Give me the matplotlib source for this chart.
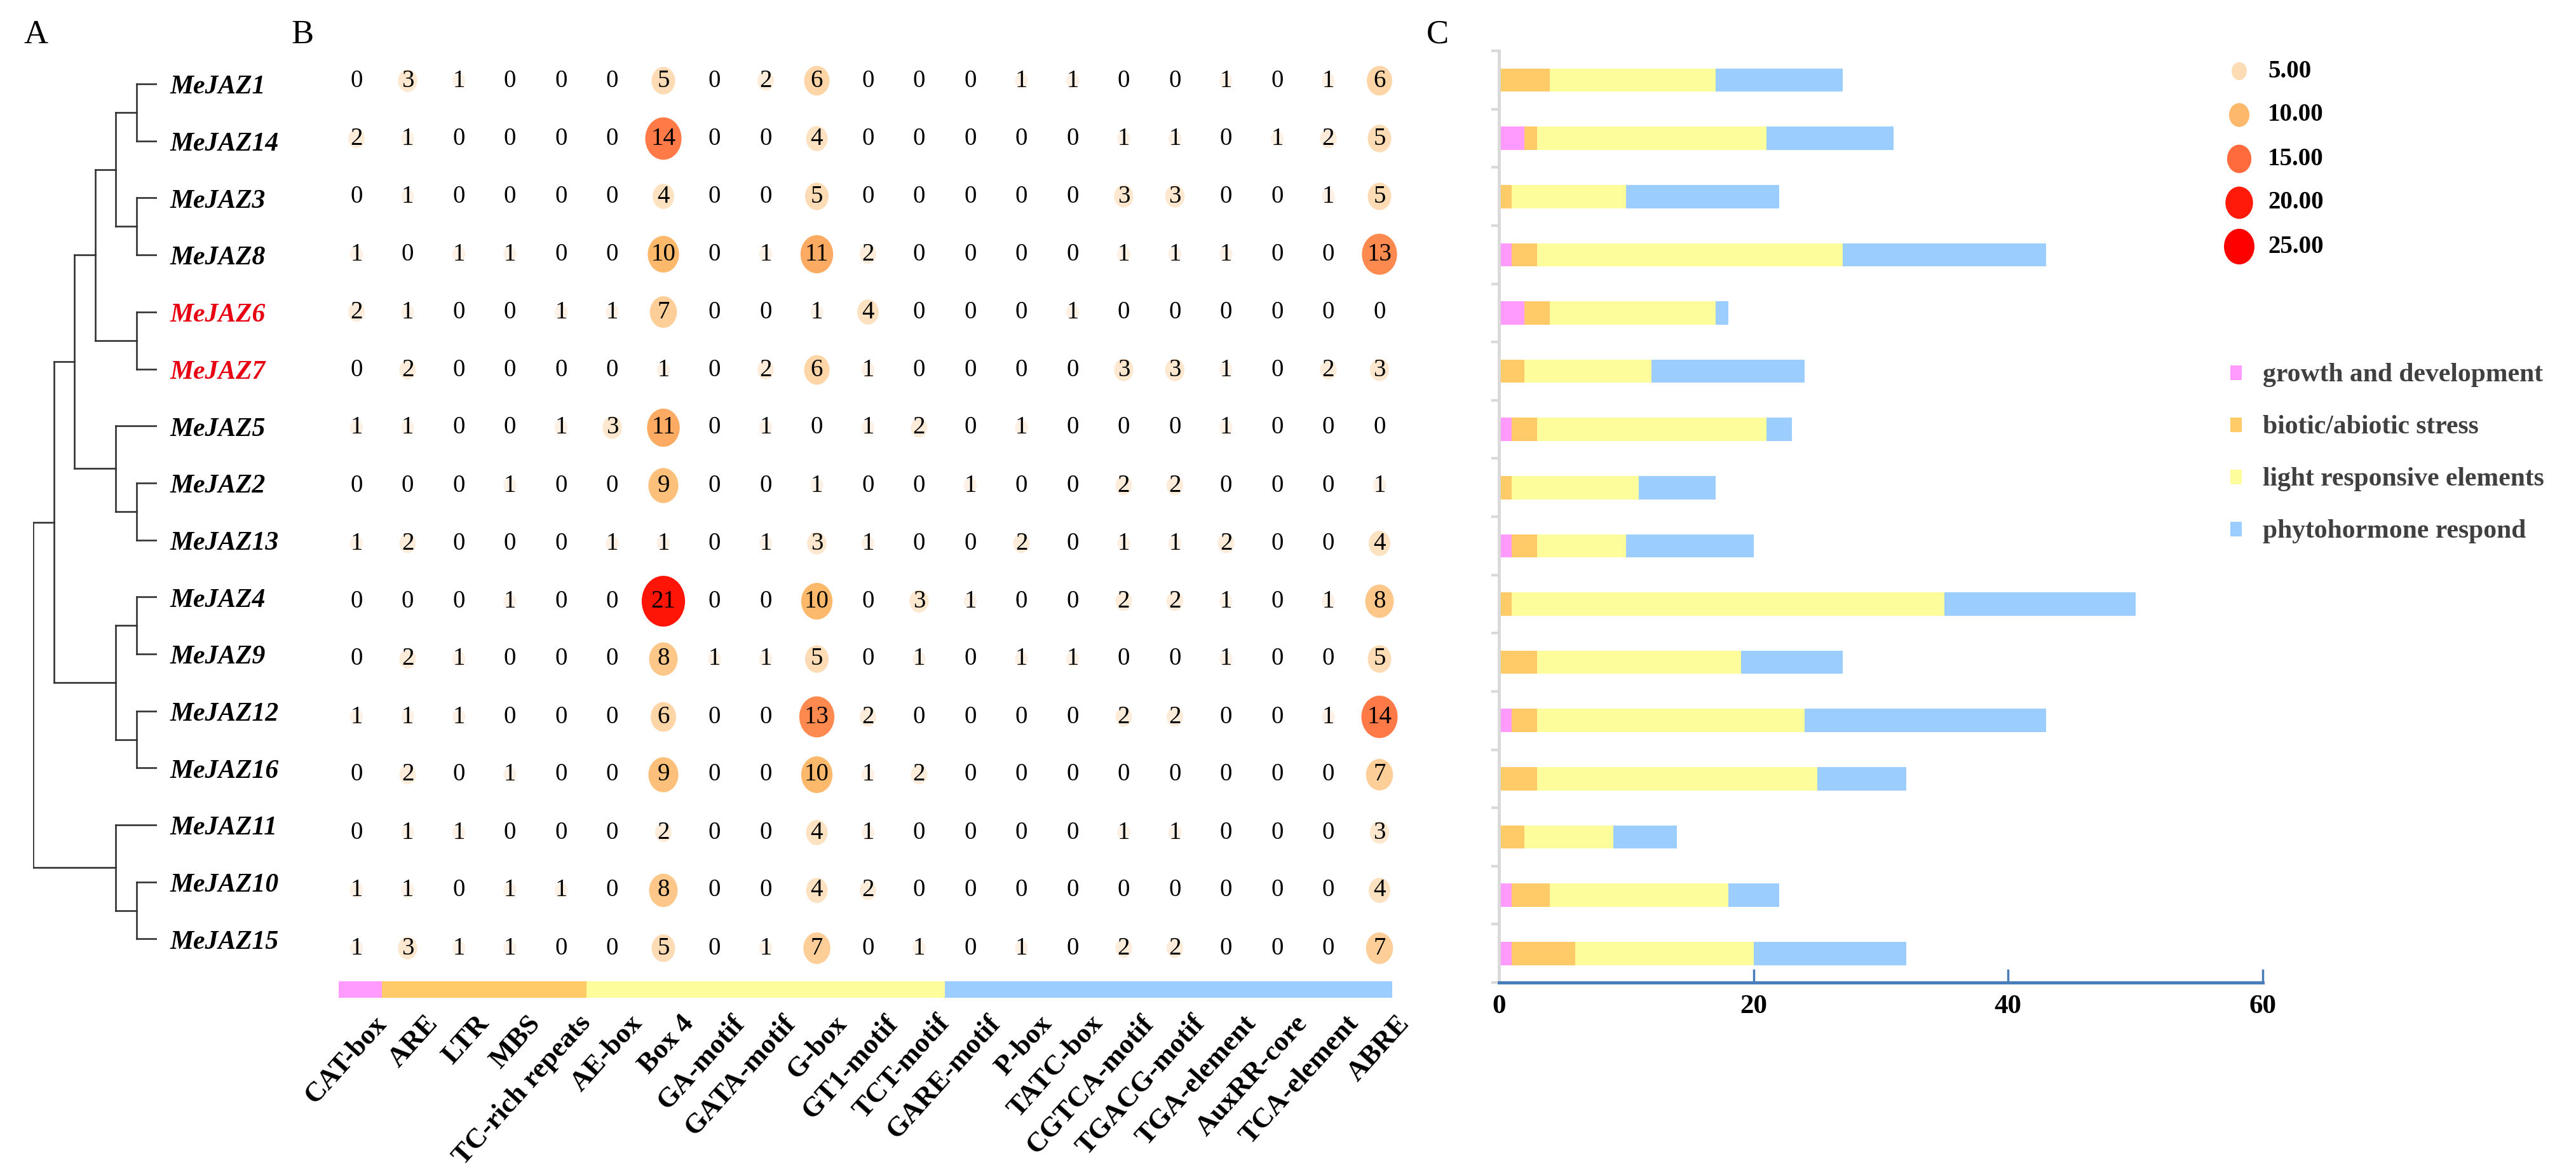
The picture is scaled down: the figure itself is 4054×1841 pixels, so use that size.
import numpy as np
import matplotlib
matplotlib.use("Agg")
import matplotlib.pyplot as plt
from matplotlib.path import Path
from matplotlib.transforms import Affine2D
from matplotlib.colors import LinearSegmentedColormap

plt.rcParams['font.family'] = ['Liberation Serif', 'DejaVu Serif']

# ---------------- data ----------------
genes = ['MeJAZ1', 'MeJAZ14', 'MeJAZ3', 'MeJAZ8', 'MeJAZ6', 'MeJAZ7', 'MeJAZ5', 'MeJAZ2',
         'MeJAZ13', 'MeJAZ4', 'MeJAZ9', 'MeJAZ12', 'MeJAZ16', 'MeJAZ11', 'MeJAZ10', 'MeJAZ15']
red_genes = ['MeJAZ6', 'MeJAZ7']

# phylogeny (cladogram, leaves in plotting order)
tree = ((((((('MeJAZ1', 'MeJAZ14'), ('MeJAZ3', 'MeJAZ8')), ('MeJAZ6', 'MeJAZ7')),
           ('MeJAZ5', ('MeJAZ2', 'MeJAZ13'))),
          (('MeJAZ4', 'MeJAZ9'), ('MeJAZ12', 'MeJAZ16')))),
        ('MeJAZ11', ('MeJAZ10', 'MeJAZ15')))

elements = ['CAT-box', 'ARE', 'LTR', 'MBS', 'TC-rich repeats', 'AE-box', 'Box 4', 'GA-motif',
            'GATA-motif', 'G-box', 'GT1-motif', 'TCT-motif', 'GARE-motif', 'P-box', 'TATC-box',
            'CGTCA-motif', 'TGACG-motif', 'TGA-element', 'AuxRR-core', 'TCA-element', 'ABRE']

counts = np.array([
    [0, 3, 1, 0, 0, 0, 5, 0, 2, 6, 0, 0, 0, 1, 1, 0, 0, 1, 0, 1, 6],
    [2, 1, 0, 0, 0, 0, 14, 0, 0, 4, 0, 0, 0, 0, 0, 1, 1, 0, 1, 2, 5],
    [0, 1, 0, 0, 0, 0, 4, 0, 0, 5, 0, 0, 0, 0, 0, 3, 3, 0, 0, 1, 5],
    [1, 0, 1, 1, 0, 0, 10, 0, 1, 11, 2, 0, 0, 0, 0, 1, 1, 1, 0, 0, 13],
    [2, 1, 0, 0, 1, 1, 7, 0, 0, 1, 4, 0, 0, 0, 1, 0, 0, 0, 0, 0, 0],
    [0, 2, 0, 0, 0, 0, 1, 0, 2, 6, 1, 0, 0, 0, 0, 3, 3, 1, 0, 2, 3],
    [1, 1, 0, 0, 1, 3, 11, 0, 1, 0, 1, 2, 0, 1, 0, 0, 0, 1, 0, 0, 0],
    [0, 0, 0, 1, 0, 0, 9, 0, 0, 1, 0, 0, 1, 0, 0, 2, 2, 0, 0, 0, 1],
    [1, 2, 0, 0, 0, 1, 1, 0, 1, 3, 1, 0, 0, 2, 0, 1, 1, 2, 0, 0, 4],
    [0, 0, 0, 1, 0, 0, 21, 0, 0, 10, 0, 3, 1, 0, 0, 2, 2, 1, 0, 1, 8],
    [0, 2, 1, 0, 0, 0, 8, 1, 1, 5, 0, 1, 0, 1, 1, 0, 0, 1, 0, 0, 5],
    [1, 1, 1, 0, 0, 0, 6, 0, 0, 13, 2, 0, 0, 0, 0, 2, 2, 0, 0, 1, 14],
    [0, 2, 0, 1, 0, 0, 9, 0, 0, 10, 1, 2, 0, 0, 0, 0, 0, 0, 0, 0, 7],
    [0, 1, 1, 0, 0, 0, 2, 0, 0, 4, 1, 0, 0, 0, 0, 1, 1, 0, 0, 0, 3],
    [1, 1, 0, 1, 1, 0, 8, 0, 0, 4, 2, 0, 0, 0, 0, 0, 0, 0, 0, 0, 4],
    [1, 3, 1, 1, 0, 0, 5, 0, 1, 7, 0, 1, 0, 1, 0, 2, 2, 0, 0, 0, 7],
])

group_names = ['growth and development', 'biotic/abiotic stress',
               'light responsive elements', 'phytohormone respond']
group_sizes = [1, 4, 7, 9]   # element columns per group
group_colors = ['#FF9BFF', '#FFCB69', '#FDFD9B', '#9BCDFF']

# panel C, stacked bar segments per gene
growth = [0, 2, 0, 1, 2, 0, 1, 0, 1, 0, 0, 1, 0, 0, 1, 1]
stress = [4, 1, 1, 2, 2, 2, 2, 1, 2, 1, 3, 2, 3, 2, 3, 5]
light = [13, 18, 9, 24, 13, 10, 18, 10, 7, 34, 16, 21, 22, 7, 14, 14]
hormone = [10, 10, 12, 16, 1, 12, 2, 6, 10, 15, 8, 19, 7, 5, 4, 12]

legend_sizes = [5, 10, 15, 20, 25]

# colour scale for bubbles
cvals = [0, 1, 5, 10, 15, 20, 25]
ccols = ['#FFFFFF', '#FDF1E6', '#FDDCB5', '#FDB96B', '#FF6B3D', '#FF1A0A', '#FF0000']
cmap = LinearSegmentedColormap.from_list('bub', list(zip(np.array(cvals) / 25, ccols)))

# ---------------- figure ----------------
W, H = 4054, 1841
DPI = 100
fig = plt.figure(figsize=(W / DPI, H / DPI), dpi=DPI)


def px_axes(left, top, right, bottom):
    return fig.add_axes([left / W, 1 - bottom / H, (right - left) / W, (bottom - top) / H])


pt = 72 / DPI  # px -> points
oval = Affine2D().scale(1, 1.17).transform_path(Path.unit_circle())


def bubble_s(v, k=1.0):
    h_px = 1.17 * k * (7.3 + 13.3 * np.sqrt(v))
    return (h_px * pt) ** 2


# ---- A: tree ----
axt = px_axes(52, 87.15, 247, 1522.35)
axt.set_xlim(6, 0)
axt.set_ylim(15.5, -0.5)
axt.axis('off')


def draw_clade(ax, node):
    if isinstance(node, str):
        return 0, genes.index(node)
    kids = [draw_clade(ax, c) for c in node]
    h = max(k[0] for k in kids) + 1
    ys = [k[1] for k in kids]
    ax.plot([h, h], [ys[0], ys[-1]], color='#333333', lw=1.9, solid_capstyle='projecting')
    for kh, ky in kids:
        ax.plot([h, kh], [ky, ky], color='#333333', lw=1.9, solid_capstyle='projecting')
    return h, (ys[0] + ys[-1]) / 2


draw_clade(axt, tree)
for i, g in enumerate(genes):
    axt.text(-0.62, i + 0.06, g, ha='left', va='center', fontsize=30, fontweight='bold',
             fontstyle='italic', color='#E60012' if g in red_genes else 'black', clip_on=False)

# ---- B: bubble matrix ----
axb = px_axes(520.75, 81.5, 2211.25, 1628.5)
axb.set_xlim(-0.5, 20.5)
axb.set_ylim(16.5, -0.5)
axb.axis('off')

yy, xx = np.nonzero(counts >= 0)
vals = counts[yy, xx]
mask = vals > 0
axb.scatter(xx[mask], yy[mask], s=bubble_s(vals[mask]), c=vals[mask], cmap=cmap,
            vmin=0, vmax=25, marker=oval, linewidths=0, zorder=2)
for x, y, v in zip(xx, yy, vals):
    axb.text(x, y, str(v), ha='center', va='center', fontsize=28, zorder=3)

edges = np.concatenate([[-0.5], np.cumsum(group_sizes) - 0.5])
edges[0], edges[-1] = -0.35, 20.25
axb.barh(15.715, np.diff(edges), left=edges[:-1], height=0.29, color=group_colors, linewidth=0)

for i, el in enumerate(elements):
    axb.text(i + 0.32, 16.08, el, rotation=48, ha='right', va='top', rotation_mode='anchor',
             fontsize=32, fontweight='bold')

# ---- C: stacked bars ----
axc = px_axes(2359, 80.2, 3561, 1546.0)
rows = np.arange(len(genes))
left = np.zeros(len(genes))
for seg, col in zip([growth, stress, light, hormone], group_colors):
    axc.barh(rows, seg, left=left, height=0.4, color=col, linewidth=0)
    left += np.array(seg)
axc.set_xlim(0, 60)
axc.set_ylim(15.5, -0.5)
axc.spines['top'].set_visible(False)
axc.spines['right'].set_visible(False)
axc.spines['left'].set_color('#D9D9D9')
axc.spines['left'].set_linewidth(3.5)
axc.spines['bottom'].set_color('#4A7EBB')
axc.spines['bottom'].set_linewidth(3.6)
axc.set_yticks(np.arange(17) - 0.5)
axc.set_yticklabels([])
axc.tick_params(axis='y', direction='out', length=9, width=3, color='#D9D9D9')
axc.set_xticks([0, 20, 40, 60])
axc.tick_params(axis='x', direction='in', length=15, width=2.5, color='#4A7EBB', pad=14,
                labelsize=31)
axc.xaxis.get_major_ticks()[0].tick1line.set_visible(False)
for lab in axc.get_xticklabels():
    lab.set_fontweight('bold')

# ---- legends ----
axs = px_axes(3480, 77.5, 3800, 422.5)
axs.set_xlim(-44, 276)
axs.set_ylim(4.5, -0.5)
axs.axis('off')
lv = np.array(legend_sizes)
axs.scatter(np.zeros(len(lv)), np.arange(len(lv)), s=bubble_s(lv, 0.65), c=lv, cmap=cmap,
            vmin=0, vmax=25, marker=oval, linewidths=0)
for k, v in enumerate(lv):
    axs.text(45, k, f'{v:.2f}', ha='left', va='center', fontsize=28, fontweight='bold')

axl = px_axes(3500, 545, 4054, 873)
axl.set_xlim(-19, 535)
axl.set_ylim(3.5, -0.5)
axl.axis('off')
rect = Affine2D().translate(-0.5, -0.5).scale(1, 1.28).transform_path(Path.unit_rectangle())
axl.scatter(np.zeros(4), np.arange(4), s=(23 * pt) ** 2, c=group_colors, marker=rect,
            linewidths=0)
for k, name in enumerate(group_names):
    axl.text(42, k + 0.05, name, ha='left', va='center', fontsize=30, fontweight='bold',
             color='#404040')

# panel letters
for lab, x in [('A', 57), ('B', 476), ('C', 2262)]:
    fig.text(x / W, 1 - 55 / H, lab, ha='center', va='center', fontsize=38)

fig.savefig('out.png', dpi=DPI)
